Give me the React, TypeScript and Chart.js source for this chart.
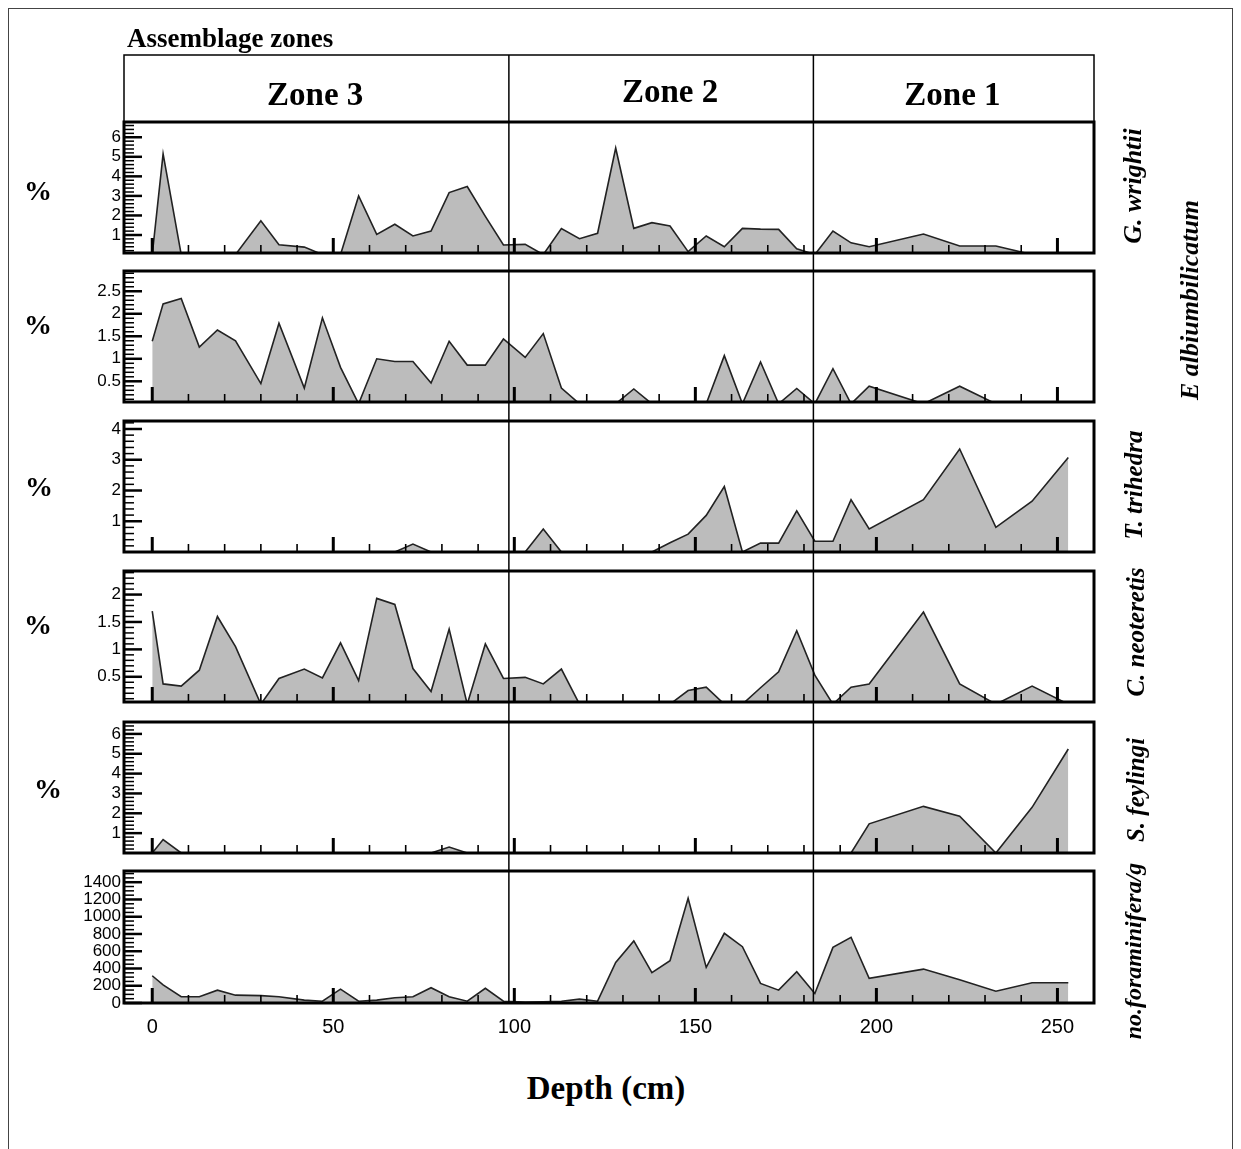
import React, { useEffect, useRef } from "react";
import { Chart, registerables } from "chart.js";

Chart.register(...registerables);

// ---------------- data ----------------
const depths = [0, 3, 8, 13, 18, 23, 30, 35, 42, 47, 52, 57, 62, 67, 72, 77, 82, 87, 92, 97, 103, 108, 113, 118, 123, 128, 133, 138, 143, 148, 153, 158, 163, 168, 173, 178, 183, 188, 193, 198, 213, 223, 233, 243, 253];

const gWrightii = [0, 5.15, 0, 0, 0, 0, 1.73, 0.5, 0.38, 0, 0, 3.0, 1.03, 1.55, 0.95, 1.2, 3.17, 3.48, 1.95, 0.49, 0.52, 0, 1.33, 0.81, 1.09, 5.45, 1.34, 1.63, 1.46, 0.15, 0.95, 0.4, 1.34, 1.3, 1.29, 0.3, 0, 1.2, 0.6, 0.4, 1.05, 0.44, 0.44, 0, 0];

const eAlbiumbilicatum = [1.39, 2.22, 2.34, 1.26, 1.64, 1.4, 0.45, 1.79, 0.35, 1.91, 0.81, 0, 1.0, 0.94, 0.94, 0.46, 1.39, 0.86, 0.86, 1.44, 1.03, 1.56, 0.35, 0, 0, 0, 0.33, 0, 0, 0, 0, 1.07, 0, 0.93, 0, 0.34, 0, 0.78, 0, 0.39, 0, 0.39, 0, 0, 0];

const tTrihedra = [0, 0, 0, 0, 0, 0, 0, 0, 0, 0, 0, 0, 0, 0, 0.26, 0, 0, 0, 0, 0, 0, 0.75, 0, 0, 0, 0, 0, 0, 0.3, 0.58, 1.19, 2.13, 0, 0.29, 0.29, 1.34, 0.35, 0.35, 1.7, 0.75, 1.7, 3.35, 0.8, 1.65, 3.07];

const cNeoteretis = [1.7, 0.37, 0.33, 0.62, 1.6, 1.05, 0, 0.47, 0.64, 0.48, 1.12, 0.43, 1.93, 1.82, 0.65, 0.23, 1.37, 0, 1.1, 0.47, 0.49, 0.37, 0.64, 0, 0, 0, 0, 0, 0, 0.25, 0.31, 0, 0, 0.3, 0.59, 1.34, 0.53, 0, 0.31, 0.37, 1.68, 0.37, 0, 0.33, 0];

const sFeylingi = [0, 0.68, 0, 0, 0, 0, 0, 0, 0, 0, 0, 0, 0, 0, 0, 0, 0.3, 0, 0, 0, 0, 0, 0, 0, 0, 0, 0, 0, 0, 0, 0, 0, 0, 0, 0, 0, 0, 0, 0, 1.47, 2.35, 1.85, 0, 2.3, 5.24];

const foraminiferaPerGram = [316, 210, 72, 72, 149, 91, 85, 72, 33, 21, 160, 21, 33, 60, 72, 177, 72, 21, 170, 21, 10, 15, 20, 45, 21, 471, 719, 351, 490, 1215, 413, 808, 653, 227, 149, 363, 110, 645, 762, 285, 393, 270, 137, 235, 235];

const xTickLabels = [0, 50, 100, 150, 200, 250];
const xMinorTicks = [0, 10, 20, 30, 40, 50, 60, 70, 80, 90, 100, 110, 120, 130, 140, 150, 160, 170, 180, 190, 200, 210, 220, 230, 240, 250];

const zoneBoundaries = [98.5, 182.6];
const zoneNames = ["Zone 3", "Zone 2", "Zone 1"];
const zoneLabelDepths = [45, 143, 221];

const yTicksG = [1, 2, 3, 4, 5, 6];
const yTicksE = [0.5, 1, 1.5, 2, 2.5];
const yTicksT = [1, 2, 3, 4];
const yTicksC = [0.5, 1, 1.5, 2];
const yTicksS = [1, 2, 3, 4, 5, 6];
const yTicksF = [0, 200, 400, 600, 800, 1000, 1200, 1400];

const seriesNames = ["G. wrightii", "E albiumbilicatum", "T. trihedra", "C. neoteretis", "S. feylingi", "no.foraminifera/g"];

// ---------------- layout / style ----------------
const SERIF = '"Liberation Serif", "DejaVu Serif", serif';
const SANS = '"Liberation Sans", Arial, sans-serif';
const FILL = "#bcbcbc";
const LINE = "#222";
const ORIGIN = 8;
const CANVAS_W = 1224;
const Y_AXIS_W = 116;
const PAD_RIGHT = 138;
const X_MIN = -7.8;
const X_MAX = 260.1;
const HEADER_H = 67;

const PANELS = [
  { values: gWrightii, yTicks: yTicksG, minor: 0.2, min: 0.08, max: 6.78, top: 122, bottom: 253 },
  { values: eAlbiumbilicatum, yTicks: yTicksE, minor: 0.1, min: 0.04, max: 2.95, top: 271, bottom: 402 },
  { values: tTrihedra, yTicks: yTicksT, minor: 0.2, min: 0, max: 4.26, top: 421, bottom: 552 },
  { values: cNeoteretis, yTicks: yTicksC, minor: 0.1, min: 0.04, max: 2.43, top: 571, bottom: 702 },
  { values: sFeylingi, yTicks: yTicksS, minor: 0.2, min: 0, max: 6.6, top: 722, bottom: 853 },
  { values: foraminiferaPerGram, yTicks: yTicksF, minor: 50, min: 0, max: 1530, top: 871, bottom: 1003 },
];

function decoPlugin(idx: number) {
  return {
    id: "deco" + idx,
    afterDatasetsDraw(chart: any) {
      const ctx = chart.ctx as CanvasRenderingContext2D;
      const a = chart.chartArea;
      const xs = chart.scales.x;
      const ys = chart.scales.y;
      const p = PANELS[idx];
      const last = idx === PANELS.length - 1;
      ctx.save();
      ctx.strokeStyle = "#000";
      ctx.fillStyle = "#000";
      ctx.lineCap = "butt";
      const seg = (x1: number, y1: number, x2: number, y2: number) => {
        ctx.beginPath();
        ctx.moveTo(x1, y1);
        ctx.lineTo(x2, y2);
        ctx.stroke();
      };
      // zone boundary lines
      const lt = idx === 0 ? a.top - HEADER_H : a.top;
      const lb = last ? a.bottom : a.bottom + (PANELS[idx + 1].top - p.bottom);
      ctx.lineWidth = 1.5;
      zoneBoundaries.forEach((z) => {
        const px = xs.getPixelForValue(z);
        seg(px, lt, px, lb);
      });
      // inward x ticks
      xMinorTicks.forEach((d) => {
        const major = xTickLabels.includes(d);
        const px = xs.getPixelForValue(d);
        ctx.lineWidth = major ? 3 : 1.6;
        seg(px, a.bottom, px, a.bottom - (major ? 15 : 8));
      });
      // inward y ticks
      const k0 = Math.ceil(p.min / p.minor - 1e-6);
      const k1 = Math.floor(p.max / p.minor + 1e-6);
      for (let k = k0; k <= k1; k++) {
        const v = k * p.minor;
        if (v <= p.min + 1e-9 && v !== 0) continue;
        const major = p.yTicks.some((t) => Math.abs(t - v) < 1e-6);
        const py = ys.getPixelForValue(v);
        ctx.lineWidth = major ? 2.5 : 1.5;
        seg(a.left, py, a.left + (major ? 18 : 10), py);
      }
      // header
      if (idx === 0) {
        ctx.lineWidth = 1.5;
        ctx.strokeRect(a.left, a.top - HEADER_H, a.right - a.left, HEADER_H);
        ctx.font = "bold 33px " + SERIF;
        ctx.textAlign = "center";
        ctx.textBaseline = "alphabetic";
        zoneNames.forEach((n, i) => {
          const px = xs.getPixelForValue(zoneLabelDepths[i]);
          ctx.fillText(n, px, a.top - HEADER_H + (i === 1 ? 47 : 50));
        });
      }
      // panel frame
      ctx.lineWidth = 3;
      ctx.strokeRect(a.left, a.top, a.right - a.left, a.bottom - a.top);
      ctx.restore();
    },
  };
}

function Panel({ idx }: { idx: number }) {
  const ref = useRef<HTMLCanvasElement>(null);
  const p = PANELS[idx];
  const last = idx === PANELS.length - 1;
  const padTop = idx === 0 ? 80 : 40;
  const padBottom = last ? 10 : 40;
  const xAxisH = last ? 50 : 0;
  const canvasTop = p.top - ORIGIN - padTop;
  const height = padTop + (p.bottom - p.top) + xAxisH + padBottom;

  useEffect(() => {
    const chart = new Chart(ref.current as HTMLCanvasElement, {
      type: "line",
      data: {
        datasets: [
          {
            data: depths.map((d, i) => ({ x: d, y: p.values[i] })),
            fill: "origin",
            backgroundColor: FILL,
            borderColor: LINE,
            borderWidth: 1.6,
            pointRadius: 0,
            tension: 0,
          },
        ],
      },
      options: {
        animation: false,
        responsive: false,
        devicePixelRatio: 1,
        events: [],
        layout: { padding: { left: 0, right: PAD_RIGHT, top: padTop, bottom: padBottom } },
        plugins: { legend: { display: false }, tooltip: { enabled: false } },
        scales: {
          x: {
            type: "linear",
            min: X_MIN,
            max: X_MAX,
            display: last,
            grid: { display: false, drawTicks: false },
            border: { display: false },
            afterBuildTicks: (s: any) => {
              s.ticks = xTickLabels.map((v) => ({ value: v }));
            },
            afterFit: (s: any) => {
              s.height = xAxisH;
            },
            ticks: {
              font: { family: SANS, size: 20 },
              color: "#000",
              padding: 12,
              autoSkip: false,
              maxRotation: 0,
              callback: (v: any) => String(v),
            },
          },
          y: {
            type: "linear",
            min: p.min,
            max: p.max,
            grid: { display: false, drawTicks: false },
            border: { display: false },
            afterBuildTicks: (s: any) => {
              s.ticks = p.yTicks.map((v) => ({ value: v }));
            },
            afterFit: (s: any) => {
              s.width = Y_AXIS_W;
            },
            ticks: {
              font: { family: SANS, size: 17 },
              color: "#000",
              padding: 3,
              autoSkip: false,
              callback: (v: any) => String(v),
            },
          },
        },
      } as any,
      plugins: [decoPlugin(idx)],
    });
    return () => chart.destroy();
  }, []);

  return (
    <canvas
      ref={ref}
      width={CANVAS_W}
      height={height}
      style={{ position: "absolute", left: 0, top: canvasTop, width: CANVAS_W, height }}
    />
  );
}

function Text({ x, y, children, style, rotate, anchor }: any) {
  const tx = anchor === "left" ? "0" : "-50%";
  return (
    <div
      style={{
        position: "absolute",
        left: x - ORIGIN,
        top: y - ORIGIN,
        transform: `translate(${tx}, -50%)` + (rotate ? " rotate(-90deg)" : ""),
        whiteSpace: "nowrap",
        lineHeight: 1,
        color: "#000",
        fontFamily: SERIF,
        ...style,
      }}
    >
      {children}
    </div>
  );
}

const percentPos = [
  [38, 191],
  [38, 325],
  [39, 487],
  [38, 625],
  [48, 789],
];

const namePos = [
  [1133, 186],
  [1190, 300],
  [1133, 485],
  [1135, 632],
  [1135, 790],
  [1133, 951],
];

const nameSizes = [26, 26, 25, 25, 25, 24];

export default function App() {
  return (
    <div style={{ position: "relative", width: 1225, height: 1141 }}>
      <style>{"html{overflow:hidden}"}</style>
      <div
        style={{
          position: "absolute",
          left: 0,
          top: 0,
          width: 1225,
          height: 1141,
          borderTop: "1px solid #444",
          borderLeft: "1px solid #444",
          borderRight: "1px solid #444",
          boxSizing: "border-box",
        }}
      />
      {PANELS.map((_, i) => (
        <Panel key={i} idx={i} />
      ))}
      <Text x={127} y={38} anchor="left" style={{ fontWeight: "bold", fontSize: 27 }}>
        Assemblage zones
      </Text>
      {percentPos.map(([x, y], i) => (
        <Text key={"p" + i} x={x} y={y} style={{ fontWeight: "bold", fontSize: 28 }}>
          %
        </Text>
      ))}
      {seriesNames.map((n, i) => (
        <Text
          key={"n" + i}
          x={namePos[i][0]}
          y={namePos[i][1]}
          rotate
          style={{ fontWeight: "bold", fontStyle: "italic", fontSize: nameSizes[i] }}
        >
          {n}
        </Text>
      ))}
      <Text x={606} y={1088} style={{ fontWeight: "bold", fontSize: 33 }}>
        Depth (cm)
      </Text>
    </div>
  );
}
